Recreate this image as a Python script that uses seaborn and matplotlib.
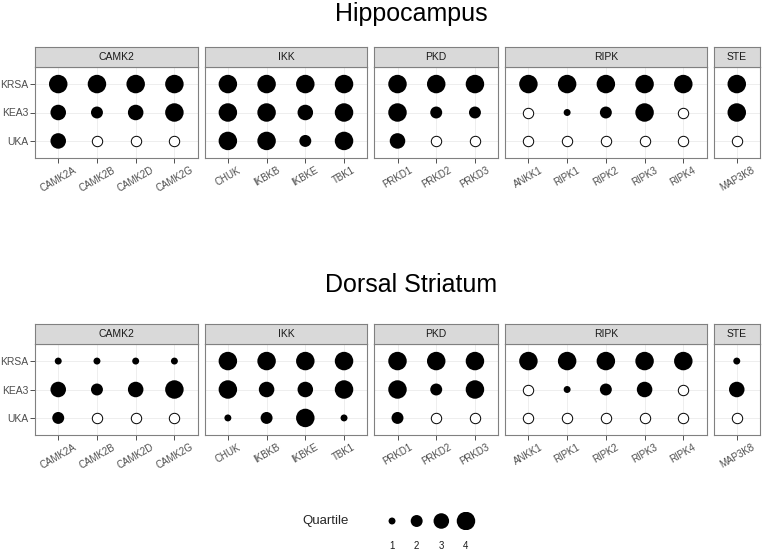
import numpy as np
import pandas as pd
import seaborn as sns
import matplotlib.pyplot as plt

regions = ["Hippocampus", "Dorsal Striatum"]
methods = ["KRSA", "KEA3", "UKA"]
families = ["CAMK2", "IKK", "PKD", "RIPK", "STE"]
genes = ["CAMK2A", "CAMK2B", "CAMK2D", "CAMK2G",
         "CHUK", "IKBKB", "IKBKE", "TBK1",
         "PRKD1", "PRKD2", "PRKD3",
         "ANKK1", "RIPK1", "RIPK2", "RIPK3", "RIPK4",
         "MAP3K8"]
gene_family = ["CAMK2"] * 4 + ["IKK"] * 4 + ["PKD"] * 3 + ["RIPK"] * 5 + ["STE"]
quartiles = [1, 2, 3, 4]

# quartile of each kinase, 0 = not reported by that method (open circle)
hip_krsa = [4, 4, 4, 4, 4, 4, 4, 4, 4, 4, 4, 4, 4, 4, 4, 4, 4]
hip_kea3 = [3, 2, 3, 4, 4, 4, 3, 4, 4, 2, 2, 0, 1, 2, 4, 0, 4]
hip_uka = [3, 0, 0, 0, 4, 4, 2, 4, 3, 0, 0, 0, 0, 0, 0, 0, 0]
str_krsa = [1, 1, 1, 1, 4, 4, 4, 4, 4, 4, 4, 4, 4, 4, 4, 4, 1]
str_kea3 = [3, 2, 3, 4, 4, 3, 3, 4, 4, 2, 4, 0, 1, 2, 3, 0, 3]
str_uka = [2, 0, 0, 0, 1, 2, 4, 1, 2, 0, 0, 0, 0, 0, 0, 0, 0]

sns.set_style("white")
plt.rcParams['font.family'] = ['Liberation Sans', 'DejaVu Sans']

rows = []
for region, by_method in zip(regions, [[hip_krsa, hip_kea3, hip_uka],
                                       [str_krsa, str_kea3, str_uka]]):
    for method, vals in zip(methods, by_method):
        for g, fam, q in zip(genes, gene_family, vals):
            rows.append(dict(region=region, method=method, gene=g, family=fam, quartile=q))
df = pd.DataFrame(rows)
df['xpos'] = df.groupby(['region', 'method', 'family']).cumcount()
df['ypos'] = df['method'].map({m: len(methods) - 1 - i for i, m in enumerate(methods)})

size_map = {1: 25, 2: 74, 3: 125, 4: 177}

W, H = 763, 553
fig = plt.figure(figsize=(W / 100, H / 100), dpi=100)


def box(x0, y0, x1, y1):
    return [x0 / W, 1 - y1 / H, (x1 - x0) / W, (y1 - y0) / H]


left, right, gap = 35, 760, 7
n_per_fam = [gene_family.count(f) for f in families]
unit = (right - left - gap * (len(families) - 1)) / sum(n + 0.2 for n in n_per_fam)
# strip top, panel top, panel bottom, title baseline (pixels)
layout = {"Hippocampus": (47, 67, 158, 21), "Dorsal Striatum": (324, 344, 435, 292)}
border = '#808080'

for region in regions:
    stop, ptop, pbot, tbase = layout[region]
    fig.text(411 / W, 1 - tbase / H, region, ha='center', va='baseline',
             fontsize=18, color='black')
    x0 = left
    for i, fam in enumerate(families):
        n = n_per_fam[i]
        w = (n + 0.2) * unit
        ax = fig.add_axes(box(x0, ptop, x0 + w, pbot))
        sax = fig.add_axes(box(x0, stop, x0 + w, ptop))
        x0 += w + gap

        sub = df[(df.region == region) & (df.family == fam)]
        found = sub[sub.quartile > 0]
        missing = sub[sub.quartile == 0]
        sns.scatterplot(data=found, x='xpos', y='ypos', size='quartile',
                        sizes=size_map, color='black', linewidth=0,
                        legend=False, ax=ax, zorder=3)
        if len(missing):
            sns.scatterplot(data=missing, x='xpos', y='ypos', s=56,
                            color='white', edgecolor='black', linewidth=0.7,
                            legend=False, ax=ax, zorder=3)

        ax.set_xlim(-0.6, n - 0.4)
        ax.set_ylim(-0.6, 2.6)
        ax.set_xticks(range(n))
        ax.set_xticklabels([g for g, f in zip(genes, gene_family) if f == fam],
                           rotation=30, ha='center', fontsize=7, color='#4D4D4D')
        ax.set_yticks([2, 1, 0])
        if i == 0:
            ax.set_yticklabels(methods, fontsize=7.5, color='#4D4D4D')
        else:
            ax.set_yticklabels([])
        ax.tick_params(axis='both', bottom=True, left=(i == 0), length=3.5,
                       width=0.6, color='#333333', pad=1.5)
        ax.grid(True, color='#EBEBEB', lw=0.6)
        ax.set_axisbelow(True)
        ax.set_xlabel('')
        ax.set_ylabel('')
        for sp in ax.spines.values():
            sp.set_color(border)
            sp.set_linewidth(0.8)

        sax.set_facecolor('#D9D9D9')
        sax.set_xticks([])
        sax.set_yticks([])
        for sp in sax.spines.values():
            sp.set_color(border)
            sp.set_linewidth(0.8)
        sax.text(0.5, 0.5, fam, ha='center', va='center', fontsize=7.5,
                 color='#1A1A1A', transform=sax.transAxes)

# size legend
fig.text(302 / W, 1 - 521 / H, "Quartile", ha='left', va='center', fontsize=9.5)
lax = fig.add_axes(box(379.7, 512, 478.3, 530))
sns.scatterplot(x=quartiles, y=[0] * len(quartiles), size=quartiles, sizes=size_map,
                color='black', linewidth=0, legend=False, ax=lax)
lax.set_xlim(0.5, 4.5)
lax.set_ylim(-1, 1)
lax.set_xticks(quartiles)
lax.set_xticklabels([str(q) for q in quartiles], fontsize=7, color='#1A1A1A')
lax.set_yticks([])
lax.tick_params(axis='x', bottom=False, length=0, pad=8)
for sp in lax.spines.values():
    sp.set_visible(False)
lax.patch.set_alpha(0)

fig.savefig('out.png', dpi=100)
